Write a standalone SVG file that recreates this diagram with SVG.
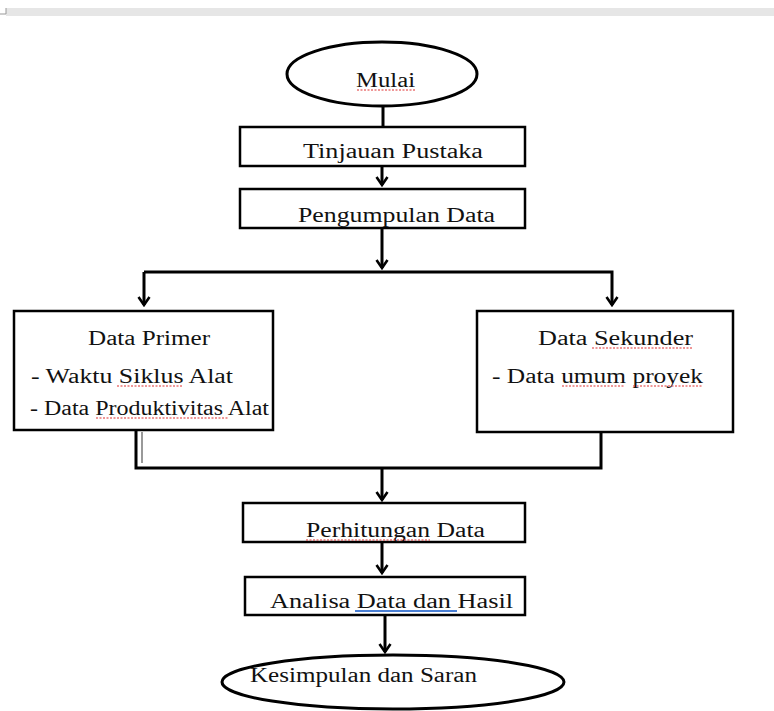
<svg xmlns="http://www.w3.org/2000/svg" width="774" height="711" viewBox="0 0 774 711">
<style>
.box{fill:#fff;stroke:#000;stroke-width:2.5}
.term{fill:#fff;stroke:#000;stroke-width:3}
.t{font-family:"Liberation Serif","Times New Roman",serif;font-size:20px;fill:#111}
.c{fill:none;stroke:#000;stroke-width:3}
.sq{fill:none;stroke:#e03030;stroke-width:1.2;stroke-dasharray:2 1.5}
</style>
<defs>
<marker id="ah" viewBox="0 0 12 14" refX="10" refY="7" markerWidth="12" markerHeight="14" markerUnits="userSpaceOnUse" orient="auto">
<path d="M2 1.5 L10 7 L2 12.5" fill="none" stroke="#000" stroke-width="2.6"/>
</marker>
</defs>
<rect x="6" y="8" width="768" height="8" fill="#e6e6e6"/>
<path d="M0 14 H6 V8" fill="none" stroke="#999" stroke-width="1"/>

<g id="connectors">
<path class="c" d="M383 106 V127"/>
<path class="c" d="M382 166 V185" marker-end="url(#ah)"/>
<path class="c" d="M382 228 V268" marker-end="url(#ah)"/>
<path class="c" d="M144 272 H612 V305" marker-end="url(#ah)"/>
<path class="c" d="M144 272 V305" marker-end="url(#ah)"/>
<path class="c" d="M136 430 V468 H601 V432"/>
<path d="M142 432 V463" fill="none" stroke="#555" stroke-width="1.2"/>
<path class="c" d="M382 468 V500" marker-end="url(#ah)"/>
<path class="c" d="M382 542 V573" marker-end="url(#ah)"/>
<path class="c" d="M385 615 V652" marker-end="url(#ah)"/>
</g>

<g id="mulai">
<ellipse class="term" cx="382" cy="74" rx="95" ry="32"/>
<text class="t" x="356" y="87" textLength="59" lengthAdjust="spacingAndGlyphs">Mulai</text>
<path class="sq" d="M357 90 H415"/>
</g>

<g id="tinjauan">
<rect class="box" x="240" y="127" width="285" height="39"/>
<text class="t" x="303" y="158" textLength="180" lengthAdjust="spacingAndGlyphs">Tinjauan  Pustaka</text>
</g>

<g id="pengumpulan">
<rect class="box" x="240" y="189" width="285" height="39"/>
<text class="t" x="298" y="222" textLength="197" lengthAdjust="spacingAndGlyphs">Pengumpulan Data</text>
</g>

<g id="primer">
<rect class="box" x="14" y="311" width="259" height="119"/>
<text class="t" x="88" y="345" textLength="122" lengthAdjust="spacingAndGlyphs">Data Primer</text>
<text class="t" x="31" y="383" textLength="202" lengthAdjust="spacingAndGlyphs">- Waktu Siklus Alat</text>
<path class="sq" d="M117 386 H182"/>
<text class="t" x="30" y="415" textLength="239" lengthAdjust="spacingAndGlyphs">- Data Produktivitas Alat</text>
<path class="sq" d="M96 418 H228"/>
</g>

<g id="sekunder">
<rect class="box" x="477" y="311" width="256" height="121"/>
<text class="t" x="538" y="345" textLength="155" lengthAdjust="spacingAndGlyphs">Data Sekunder</text>
<path class="sq" d="M592 348 H693"/>
<text class="t" x="492" y="383" textLength="211" lengthAdjust="spacingAndGlyphs">- Data umum  proyek</text>
<path class="sq" d="M562 386 H624 M633 386 H703"/>
</g>

<g id="perhitungan">
<rect class="box" x="243" y="503" width="282" height="39"/>
<text class="t" x="306" y="537" textLength="179" lengthAdjust="spacingAndGlyphs">Perhitungan Data</text>
<path class="sq" d="M306 540 H430"/>
</g>

<g id="analisa">
<rect class="box" x="245" y="577" width="280" height="38"/>
<text class="t" x="270" y="608" textLength="243" lengthAdjust="spacingAndGlyphs">Analisa Data  dan Hasil</text>
<path d="M355 611 H457" fill="none" stroke="#4a7fd4" stroke-width="1.8"/>
</g>

<g id="kesimpulan">
<ellipse class="term" cx="393" cy="682" rx="171" ry="27"/>
<text class="t" x="250" y="682" textLength="227" lengthAdjust="spacingAndGlyphs">Kesimpulan dan Saran</text>
</g>
</svg>
